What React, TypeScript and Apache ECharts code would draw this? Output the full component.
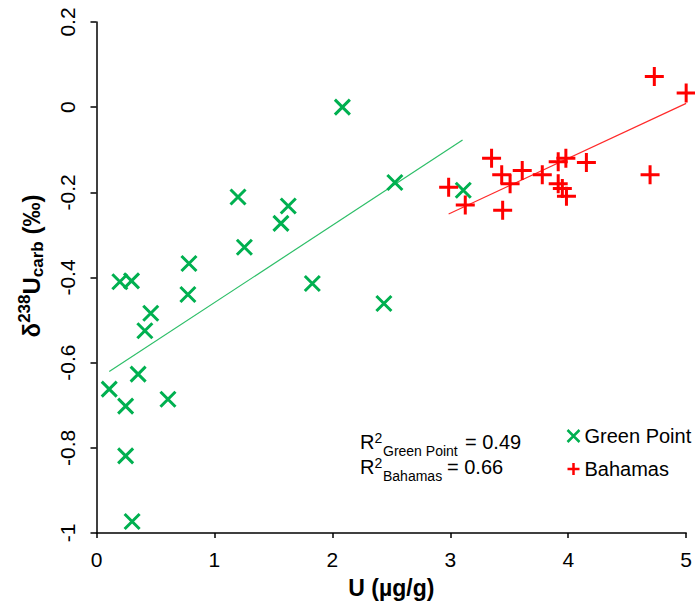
import React, { useEffect, useRef } from "react";
import * as echarts from "echarts";

const greenX = [2.085, 2.53, 3.11, 1.2, 1.626, 1.564, 1.254, 0.784, 0.775, 1.83, 2.437, 0.198, 0.297, 0.46, 0.41, 0.353, 0.108, 0.247, 0.606, 0.247, 0.302];
const greenY = [0.0, -0.177, -0.195, -0.211, -0.232, -0.273, -0.329, -0.367, -0.44, -0.414, -0.461, -0.41, -0.408, -0.484, -0.525, -0.627, -0.662, -0.702, -0.686, -0.819, -0.973];
const redX = [4.73, 5.0, 3.35, 2.986, 3.127, 3.436, 3.507, 3.61, 3.444, 3.78, 3.915, 3.98, 3.915, 3.95, 3.985, 4.154, 4.694];
const redY = [0.072, 0.033, -0.12, -0.188, -0.23, -0.159, -0.18, -0.149, -0.242, -0.159, -0.128, -0.12, -0.18, -0.191, -0.209, -0.13, -0.159];
const greenTrendX = [0.108, 3.104];
const greenTrendY = [-0.621, -0.077];
const redTrendX = [2.986, 5.0];
const redTrendY = [-0.251, 0.009];

const GREEN = "#00B050";
const RED = "#FF0000";
const FONT = "Liberation Sans, Arial, sans-serif";

const zip = (xs: number[], ys: number[]) => xs.map((x, i) => [x, ys[i]]);

const txt = (text: string, x: number, y: number, size: number) => ({
  type: "text",
  x,
  y,
  style: {
    text,
    fontFamily: FONT,
    fontSize: size,
    fill: "#000",
    align: "left",
    verticalAlign: "middle",
  },
});

export default function App() {
  const ref = useRef<HTMLDivElement>(null);
  useEffect(() => {
    if (!ref.current) return;
    const chart = echarts.init(ref.current, null, { renderer: "svg" });
    const crossPath = "path://M0,0L10,10M10,0L0,10";
    const plusPath = "path://M5,0L5,10M0,5L10,5";
    chart.setOption({
      animation: false,
      backgroundColor: "#fff",
      grid: { left: 96.5, right: 6.5, top: 22, bottom: 71, containLabel: false },
      xAxis: {
        type: "value",
        min: 0,
        max: 5,
        interval: 1,
        name: "U (µg/g)",
        nameLocation: "middle",
        nameGap: 43,
        nameTextStyle: { fontFamily: FONT, fontSize: 23, fontWeight: "bold", color: "#000" },
        axisLine: { onZero: false, lineStyle: { color: "#000", width: 1.5 } },
        axisTick: { show: true, inside: false, length: 5, lineStyle: { color: "#000", width: 1.5 } },
        axisLabel: { fontFamily: FONT, fontSize: 21, color: "#000", margin: 16 },
        splitLine: { show: false },
      },
      yAxis: {
        type: "value",
        min: -1,
        max: 0.2,
        interval: 0.2,
        axisLine: { onZero: false, lineStyle: { color: "#000", width: 1.5 } },
        axisTick: { show: true, inside: false, length: 6, lineStyle: { color: "#000", width: 1.5 } },
        axisLabel: { fontFamily: FONT, fontSize: 21, color: "#000", rotate: 90, margin: 19 },
        splitLine: { show: false },
      },
      legend: {
        orient: "vertical",
        left: 565,
        top: 426,
        padding: 0,
        itemWidth: 12,
        itemHeight: 12,
        itemGap: 13,
        textStyle: { fontFamily: FONT, fontSize: 20, color: "#000", padding: [0, 0, 0, 0] },
        itemStyle: { borderWidth: 2.5 },
        data: [
          { name: "Green Point", icon: crossPath },
          { name: "Bahamas", icon: plusPath },
        ],
      },
      graphic: [
        {
          type: "text",
          x: 31,
          y: 266,
          rotation: Math.PI / 2,
          style: {
            text: "{a|δ}{s|238}{a|U}{b|carb}{a| (‰)}",
            align: "center",
            verticalAlign: "middle",
            fill: "#000",
            rich: {
              a: { fontFamily: FONT, fontSize: 24, fontWeight: "bold", fill: "#000", lineHeight: 30, verticalAlign: "middle" },
              s: { fontFamily: FONT, fontSize: 17, fontWeight: "bold", fill: "#000", lineHeight: 24, verticalAlign: "top" },
              b: { fontFamily: FONT, fontSize: 17, fontWeight: "bold", fill: "#000", lineHeight: 18, verticalAlign: "bottom" },
            },
          },
        },
        txt("R", 360, 441.5, 20),
        txt("2", 374.5, 437.5, 14),
        txt("Green Point", 383, 451, 14),
        txt("= 0.49", 465, 441.5, 20),
        txt("R", 360, 466.5, 20),
        txt("2", 374.5, 462.5, 14),
        txt("Bahamas", 383, 476, 14),
        txt("= 0.66", 447, 466.5, 20),
      ],
      series: [
        {
          name: "Green Point trend",
          type: "line",
          data: zip(greenTrendX, greenTrendY),
          showSymbol: false,
          symbol: "none",
          lineStyle: { color: "#2DBE68", width: 1.2 },
          silent: true,
          z: 1,
        },
        {
          name: "Bahamas trend",
          type: "line",
          data: zip(redTrendX, redTrendY),
          showSymbol: false,
          symbol: "none",
          lineStyle: { color: "#FF2A2A", width: 1.2 },
          silent: true,
          z: 1,
        },
        {
          name: "Green Point",
          type: "scatter",
          data: zip(greenX, greenY),
          symbol: crossPath,
          symbolSize: 15,
          clip: false,
          itemStyle: { color: "none", borderColor: GREEN, borderWidth: 3, opacity: 1 },
          z: 3,
        },
        {
          name: "Bahamas",
          type: "scatter",
          data: zip(redX, redY),
          symbol: plusPath,
          symbolSize: 19,
          clip: false,
          itemStyle: { color: "none", borderColor: RED, borderWidth: 3, opacity: 1 },
          z: 3,
        },
      ],
    });
    return () => chart.dispose();
  }, []);
  return <div ref={ref} style={{ width: 695, height: 604, position: "absolute", left: 0, top: 0 }} />;
}
